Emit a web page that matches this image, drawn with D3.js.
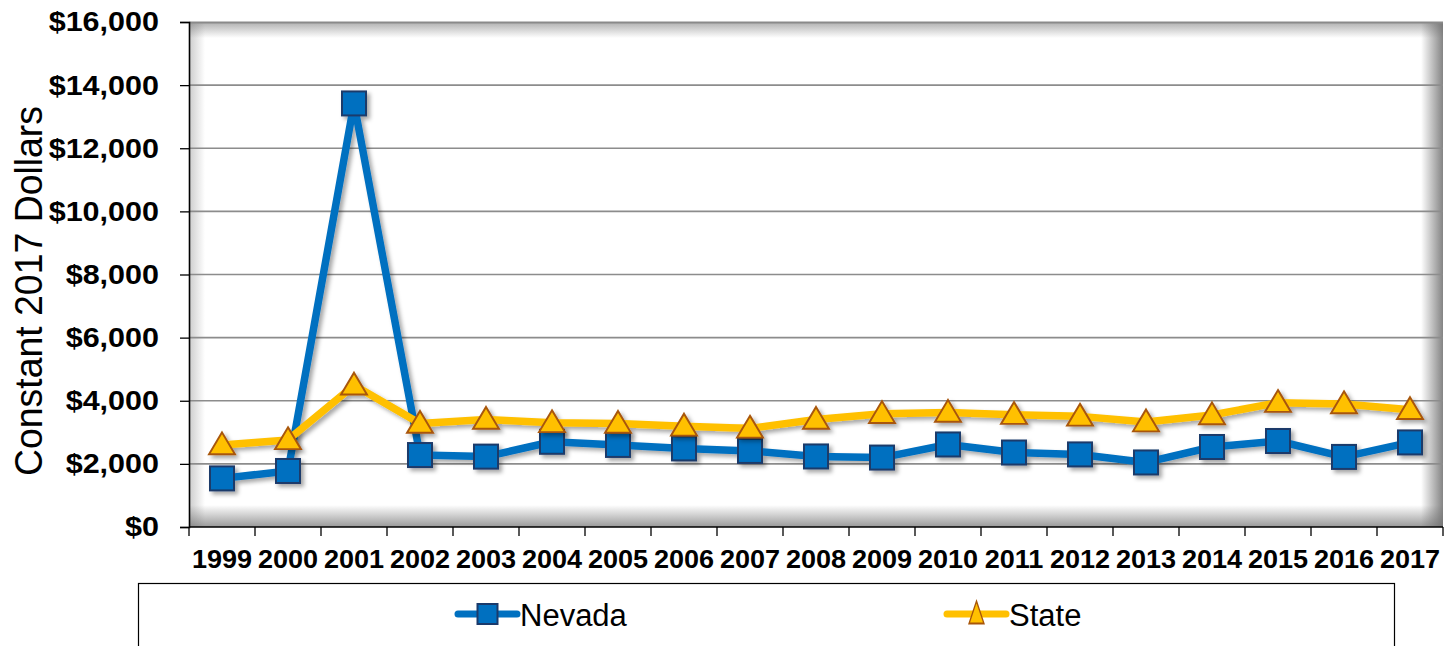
<!DOCTYPE html>
<html>
<head>
<meta charset="utf-8">
<script src="https://cdn.jsdelivr.net/npm/d3@7"></script>
<style>
  html, body { margin: 0; padding: 0; background: #fff; }
  svg { display: block; font-family: "Liberation Sans", Arial, sans-serif; }
</style>
</head>
<body>
<svg id="chart" width="1444" height="646"></svg>
<script>
// Per-capita values in constant 2017 dollars
const years = ["1999","2000","2001","2002","2003","2004","2005","2006","2007","2008",
               "2009","2010","2011","2012","2013","2014","2015","2016","2017"];
const nevada = [1540, 1775, 13420, 2280, 2230, 2700, 2600, 2490, 2410, 2235,
                2200, 2615, 2360, 2300, 2045, 2535, 2725, 2220, 2680];
const state  = [2600, 2760, 4490, 3280, 3405, 3300, 3280, 3190, 3125, 3405,
                3590, 3630, 3560, 3505, 3325, 3550, 3940, 3900, 3715];
const yTicks = [0, 2000, 4000, 6000, 8000, 10000, 12000, 14000, 16000];
const seriesNames = ["Nevada", "State"];
const yTitle = "Constant 2017 Dollars";

const svg = d3.select("#chart");
const plot = { left: 189, right: 1443, top: 22, bottom: 527 };

const x = d3.scaleBand().domain(years).range([plot.left, plot.right]).padding(0);
const y = d3.scaleLinear().domain([0, 16000]).range([plot.bottom, plot.top]);

const defs = svg.append("defs");
// soft shadow under lines and markers
const shadow = defs.append("filter").attr("id", "shadow")
  .attr("x", "-20%").attr("y", "-20%").attr("width", "140%").attr("height", "140%");
shadow.append("feDropShadow").attr("dx", 3).attr("dy", 3).attr("stdDeviation", 2)
  .attr("flood-color", "#000").attr("flood-opacity", 0.35);

function edgeGradient(id, x1, y1, x2, y2, op) {
  const g = defs.append("linearGradient").attr("id", id)
    .attr("x1", x1).attr("y1", y1).attr("x2", x2).attr("y2", y2);
  g.append("stop").attr("offset", "0%").attr("stop-color", "#6e6e6e").attr("stop-opacity", op);
  g.append("stop").attr("offset", "100%").attr("stop-color", "#6e6e6e").attr("stop-opacity", 0);
}
edgeGradient("gTop", 0, 0, 0, 1, 0.55);
edgeGradient("gBottom", 0, 1, 0, 0, 0.7);
edgeGradient("gLeft", 0, 0, 1, 0, 0.35);
edgeGradient("gRight", 1, 0, 0, 0, 0.85);

// plot area with inner shading along its edges
const pw = plot.right - plot.left, ph = plot.bottom - plot.top;
svg.append("rect").attr("x", plot.left).attr("y", plot.top).attr("width", pw).attr("height", ph).attr("fill", "#fff");
svg.append("rect").attr("x", plot.left).attr("y", plot.top).attr("width", pw).attr("height", 16).attr("fill", "url(#gTop)");
svg.append("rect").attr("x", plot.left).attr("y", plot.bottom - 22).attr("width", pw).attr("height", 22).attr("fill", "url(#gBottom)");
svg.append("rect").attr("x", plot.left).attr("y", plot.top).attr("width", 16).attr("height", ph).attr("fill", "url(#gLeft)");
svg.append("rect").attr("x", plot.right - 22).attr("y", plot.top).attr("width", 22).attr("height", ph).attr("fill", "url(#gRight)");
svg.append("line").attr("x1", plot.left).attr("x2", plot.right).attr("y1", plot.top + 0.5).attr("y2", plot.top + 0.5)
  .attr("stroke", "#8a8a8a").attr("stroke-width", 2);

// horizontal gridlines
svg.append("g").selectAll("line").data(yTicks.filter(d => d > 0 && d < 16000)).join("line")
  .attr("x1", plot.left).attr("x2", plot.right)
  .attr("y1", d => y(d)).attr("y2", d => y(d))
  .attr("stroke", "#8c8c8c").attr("stroke-width", 1.6);

// y axis
const yAxis = svg.append("g").attr("transform", `translate(${plot.left},0)`)
  .call(d3.axisLeft(y).tickValues(yTicks).tickSize(9).tickPadding(21)
    .tickFormat(d => "$" + d3.format(",")(d)));
yAxis.select(".domain").attr("stroke", "#000").attr("stroke-width", 1.6);
yAxis.selectAll(".tick line").attr("stroke", "#000").attr("stroke-width", 1.3);
yAxis.selectAll(".tick text")
  .attr("font-family", "'Liberation Sans', Arial, sans-serif")
  .attr("font-size", 28).attr("font-weight", "bold").attr("fill", "#000")
  .each(function () {
    const w = this.getComputedTextLength();
    d3.select(this).attr("textLength", w * 1.09).attr("lengthAdjust", "spacingAndGlyphs");
  });

// x axis: baseline, boundary ticks and year labels
svg.append("line").attr("x1", plot.left).attr("x2", plot.right).attr("y1", plot.bottom).attr("y2", plot.bottom)
  .attr("stroke", "#000").attr("stroke-width", 1.6);
const bounds = years.map(d => x(d)).concat([x.range()[1]]);
svg.append("g").selectAll("line").data(bounds).join("line")
  .attr("x1", d => d).attr("x2", d => d)
  .attr("y1", plot.bottom).attr("y2", plot.bottom + 9)
  .attr("stroke", "#000").attr("stroke-width", 1.3);
svg.append("g").selectAll("text").data(years).join("text")
  .attr("x", d => x(d) + x.bandwidth() / 2).attr("y", 568)
  .attr("text-anchor", "middle").attr("font-size", 26).attr("font-weight", "bold").attr("fill", "#000")
  .text(d => d)
  .each(function () {
    const w = this.getComputedTextLength();
    d3.select(this).attr("textLength", w * 1.04).attr("lengthAdjust", "spacingAndGlyphs");
  });

// y axis title
svg.append("text")
  .attr("transform", "translate(42,291) rotate(-90)")
  .attr("text-anchor", "middle").attr("font-size", 38).attr("fill", "#000")
  .attr("textLength", 370).attr("lengthAdjust", "spacingAndGlyphs")
  .text(yTitle);

// series
const cx = (d, i) => x(years[i]) + x.bandwidth() / 2;
const lineGen = d3.line().x((d, i) => cx(d, i)).y(d => y(d));
const sq = 24;
const tri = d3.symbol().type(d3.symbolTriangle).size(250);

const nevG = svg.append("g").attr("filter", "url(#shadow)");
nevG.append("path").datum(nevada).attr("d", lineGen)
  .attr("fill", "none").attr("stroke", "#0070C0").attr("stroke-width", 7.5).attr("stroke-linejoin", "round");
nevG.selectAll("rect").data(nevada).join("rect")
  .attr("x", (d, i) => cx(d, i) - sq / 2).attr("y", d => y(d) - sq / 2)
  .attr("width", sq).attr("height", sq)
  .attr("fill", "#0070C0").attr("stroke", "#1B3A6B").attr("stroke-width", 2);

const stG = svg.append("g").attr("filter", "url(#shadow)");
stG.append("path").datum(state).attr("d", lineGen)
  .attr("fill", "none").attr("stroke", "#FFC000").attr("stroke-width", 7.5).attr("stroke-linejoin", "round");
stG.selectAll("path.m").data(state).join("path").attr("class", "m")
  .attr("d", tri)
  .attr("transform", (d, i) => `translate(${cx(d, i)},${y(d) + 2}) scale(1.08,1.05)`)
  .attr("fill", "#FFC000").attr("stroke", "#A8560A").attr("stroke-width", 1.8);

// legend
svg.append("rect").attr("x", 138.5).attr("y", 583.5).attr("width", 1256).attr("height", 80)
  .attr("fill", "#fff").attr("stroke", "#000").attr("stroke-width", 1.2);

const legendX = [458, 947];
const lg = svg.append("g").selectAll("g").data(seriesNames).join("g")
  .attr("transform", (d, i) => `translate(${legendX[i]},614)`);
lg.append("line").attr("x1", 0).attr("x2", 59).attr("y1", 0).attr("y2", 0)
  .attr("stroke", (d, i) => i === 0 ? "#0070C0" : "#FFC000")
  .attr("stroke-width", 7).attr("stroke-linecap", "round");
lg.filter((d, i) => i === 0).append("rect")
  .attr("x", 19.5).attr("y", -10).attr("width", 20).attr("height", 20)
  .attr("fill", "#0070C0").attr("stroke", "#1B3A6B").attr("stroke-width", 2);
lg.filter((d, i) => i === 1).append("path")
  .attr("d", d3.symbol().type(d3.symbolTriangle).size(170))
  .attr("transform", "translate(29.5,2) scale(0.75,1.3)")
  .attr("fill", "#FFC000").attr("stroke", "#A8560A").attr("stroke-width", 1.6);
lg.append("text").attr("x", 62).attr("y", 12).attr("font-size", 31).attr("fill", "#000")
  .text(d => d);
</script>
</body>
</html>
